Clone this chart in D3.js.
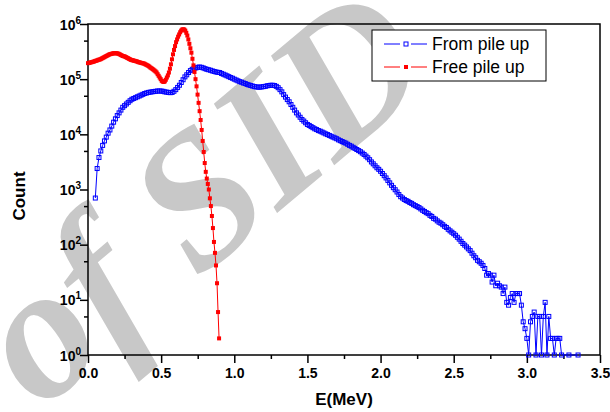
<!DOCTYPE html>
<html>
<head>
<meta charset="utf-8">
<script src="https://cdn.jsdelivr.net/npm/d3@7"></script>
<style>
html,body{margin:0;padding:0;background:#fff;}
svg{display:block;}
text{font-family:"Liberation Sans",Arial,Helvetica,sans-serif;}
</style>
</head>
<body>
<svg id="chart" width="610" height="412"></svg>
<script>
// ---------------- data ----------------
const xTicks = [0, 0.5, 1.0, 1.5, 2.0, 2.5, 3.0, 3.5];
const xMinorTicks = [0.25, 0.75, 1.25, 1.75, 2.25, 2.75, 3.25];
const yTicks = [1, 10, 100, 1000, 10000, 100000, 1000000];
const yTickExponents = ["0", "1", "2", "3", "4", "5", "6"];
const yMinorTicks = [5, 50, 500, 5000, 50000, 500000];
const xLabel = "E(MeV)";
const yLabel = "Count";
const seriesNames = ["From pile up", "Free pile up"];
const watermarkText = "of SID";

// "Free pile up" spectrum: bins starting at 0 MeV, width 0.007 MeV
const redStart = 0, redStep = 0.007;
const redCounts = [
195000,197000,200000,202000,204000,207000,209000,214000,216000,219000,
224000,226000,229000,234000,240000,245000,251000,257000,263000,269000,
275000,282000,285000,288000,292000,295000,295000,295000,295000,292000,
288000,282000,275000,269000,263000,260000,257000,251000,245000,240000,
234000,229000,224000,221000,219000,216000,214000,211000,209000,204000,
202000,200000,197000,195000,193000,191000,186000,182000,178000,174000,
168000,162000,158000,153000,148000,143000,138000,132000,123000,115000,
107000,100000,93300,90200,89100,91200,97700,107000,117000,132000,
155000,186000,229000,282000,339000,398000,468000,525000,589000,646000,
708000,759000,794000,804000,794000,759000,692000,617000,525000,437000,
363000,302000,234000,178000,135000,100000,74100,52500,37200,26300,
18200,12000,7590,4790,3020,2090,1580,1260,1000,692,
501,331,200,112,71,42,20,6,2
];

// "From pile up" spectrum: bins starting at 0.05 MeV, width 0.0125 MeV (0 = empty bin)
const blueStart = 0.05, blueStep = 0.0125;
const blueCounts = [
700,2400,3800,5000,6300,7600,8900,10500,12000,14100,
16600,19100,21900,24500,27500,30900,33100,35500,38000,40700,
43200,44700,46200,47900,49500,51300,53100,55000,56200,57500,
58200,58900,59600,60300,61000,61000,61000,60300,58900,58200,
57500,56900,57500,60300,64600,70800,77600,87100,97700,110000,
120000,132000,143000,151000,157000,160000,164000,166000,164000,160000,
155000,151000,148000,145000,141000,138000,135000,133000,132000,127000,
123000,119000,115000,111000,107000,104000,100000,96600,93300,90200,
88100,85100,83200,80400,78500,76700,75000,73300,72400,71600,
71600,72400,73300,74100,75900,76700,77600,77600,76700,74100,
70000,64600,58900,52500,47300,42700,38900,34700,30900,27500,
24500,22400,20400,18600,17400,16200,15100,14500,13800,13200,
12600,12200,11700,11400,11000,10600,10200,9890,9550,9230,
8910,8610,8320,7940,7670,7410,7160,6920,6610,6310,
6100,5820,5560,5310,5070,4840,4570,4320,4030,3760,
3470,3160,2920,2690,2480,2320,2140,1950,1780,1620,
1460,1320,1190,1080,990,900,810,740,700,660,
630,610,580,560,530,510,490,470,445,420,
400,380,365,340,325,300,290,270,255,245,
230,215,205,190,178,168,158,148,136,126,
115,105,98,91,84,78,70,63,58,52,
49,46,42,37,28,30,28,21,28,18,
20,18,17,13,17,9,8,11,13,9,
13,13,13,8,4,3,2,1,4,5,
6,1,5,5,1,5,9,1,5,2,
2,1,2,2,2,1,0,0,0,1,
0,0,0,0,1
];

// ---------------- chart ----------------
const svg = d3.select("#chart");
const W = 610, H = 412;
const m = {left: 88, right: 600, top: 24, bottom: 355};

const x = d3.scaleLinear().domain([0, 3.5]).range([m.left, m.right]);
const y = d3.scaleLog().domain([1, 1e6]).range([m.bottom, m.top]);

svg.append("rect").attr("width", W).attr("height", H).attr("fill", "#fff");

// watermark (behind everything)
svg.append("text")
  .attr("transform", "translate(40,412) rotate(-40)")
  .attr("font-style", "italic")
  .attr("font-weight", "bold")
  .attr("font-size", 190)
  .attr("fill", "#c8c8c8")
  .style("font-family", "'Liberation Serif','Times New Roman',serif")
  .text(watermarkText);

// axes
const xAxis = d3.axisBottom(x).tickValues(xTicks).tickSize(8).tickPadding(5)
  .tickFormat(d3.format(".1f"));
const xMinor = d3.axisBottom(x).tickValues(xMinorTicks).tickSize(4).tickFormat("");
const yAxis = d3.axisLeft(y).tickValues(yTicks).tickSize(8).tickFormat("");
const yMinor = d3.axisLeft(y).tickValues(yMinorTicks).tickSize(4).tickFormat("");

function styleAxis(g) {
  g.select(".domain").remove();
  g.selectAll(".tick line").attr("stroke", "#000").attr("stroke-width", 1.5);
}

const gx = svg.append("g").attr("transform", `translate(0,${m.bottom})`).call(xAxis).call(styleAxis);
gx.selectAll(".tick text")
  .attr("font-size", 14).attr("font-weight", "bold").attr("fill", "#000")
  .style("font-family", "'Liberation Sans',Arial,sans-serif");
svg.append("g").attr("transform", `translate(0,${m.bottom})`).call(xMinor).call(styleAxis);

const gy = svg.append("g").attr("transform", `translate(${m.left},0)`).call(yAxis).call(styleAxis);
svg.append("g").attr("transform", `translate(${m.left},0)`).call(yMinor).call(styleAxis);

// y tick labels with superscript exponents
gy.selectAll(".tick").each(function(d) {
  const t = d3.select(this).append("text")
    .attr("x", -7).attr("y", 5)
    .attr("text-anchor", "end")
    .attr("fill", "#000")
    .attr("font-size", 14).attr("font-weight", "bold")
    .style("font-family", "'Liberation Sans',Arial,sans-serif");
  t.append("tspan").text("10");
  t.append("tspan").attr("dy", -6).attr("font-size", 10).text(yTickExponents[yTicks.indexOf(d)]);
});

// frame
svg.append("rect")
  .attr("x", m.left).attr("y", m.top)
  .attr("width", m.right - m.left).attr("height", m.bottom - m.top)
  .attr("fill", "none").attr("stroke", "#000").attr("stroke-width", 1.5);

// series data
const redData = redCounts.map((v, i) => ({e: redStart + i * redStep, v}));
const blueData = blueCounts.map((v, i) => ({e: blueStart + i * blueStep, v})).filter(d => d.v > 0);

const line = d3.line().x(d => x(d.e)).y(d => y(d.v));

// blue series
svg.append("path").datum(blueData)
  .attr("d", line).attr("fill", "none").attr("stroke", "#0000ff").attr("stroke-width", 1);
svg.append("g").selectAll("rect").data(blueData).join("rect")
  .attr("x", d => x(d.e) - 2).attr("y", d => y(d.v) - 2)
  .attr("width", 4).attr("height", 4)
  .attr("fill", "none").attr("stroke", "#0000ff").attr("stroke-width", 1);

// red series
svg.append("path").datum(redData)
  .attr("d", line).attr("fill", "none").attr("stroke", "#ff0000").attr("stroke-width", 1);
svg.append("g").selectAll("rect").data(redData).join("rect")
  .attr("x", d => x(d.e) - 2).attr("y", d => y(d.v) - 2)
  .attr("width", 4).attr("height", 4)
  .attr("fill", "#ff0000");

// axis titles
svg.append("text")
  .attr("x", x(1.75)).attr("y", 405)
  .attr("text-anchor", "middle")
  .attr("font-size", 17).attr("font-weight", "bold")
  .text(xLabel);
svg.append("text")
  .attr("transform", "translate(25,196) rotate(-90)")
  .attr("text-anchor", "middle")
  .attr("font-size", 17).attr("font-weight", "bold")
  .text(yLabel);

// legend
const lg = svg.append("g");
lg.append("rect").attr("x", 372).attr("y", 30).attr("width", 174).attr("height", 51)
  .attr("fill", "#fff").attr("stroke", "#000").attr("stroke-width", 1);
const legendColors = ["#0000ff", "#ff0000"];
const legendRows = [44, 67];
seriesNames.forEach((name, i) => {
  const yy = legendRows[i];
  lg.append("line").attr("x1", 384).attr("x2", 400).attr("y1", yy).attr("y2", yy)
    .attr("stroke", legendColors[i]).attr("stroke-width", 1);
  lg.append("line").attr("x1", 411).attr("x2", 427).attr("y1", yy).attr("y2", yy)
    .attr("stroke", legendColors[i]).attr("stroke-width", 1);
  lg.append("rect").attr("x", 404).attr("y", yy - 2).attr("width", 4).attr("height", 4)
    .attr("fill", i === 0 ? "#fff" : legendColors[i])
    .attr("stroke", i === 0 ? legendColors[i] : "none").attr("stroke-width", 1);
  lg.append("text").attr("x", 432).attr("y", yy + 6)
    .attr("font-size", 17.5).attr("fill", "#000").text(name);
});
</script>
</body>
</html>
